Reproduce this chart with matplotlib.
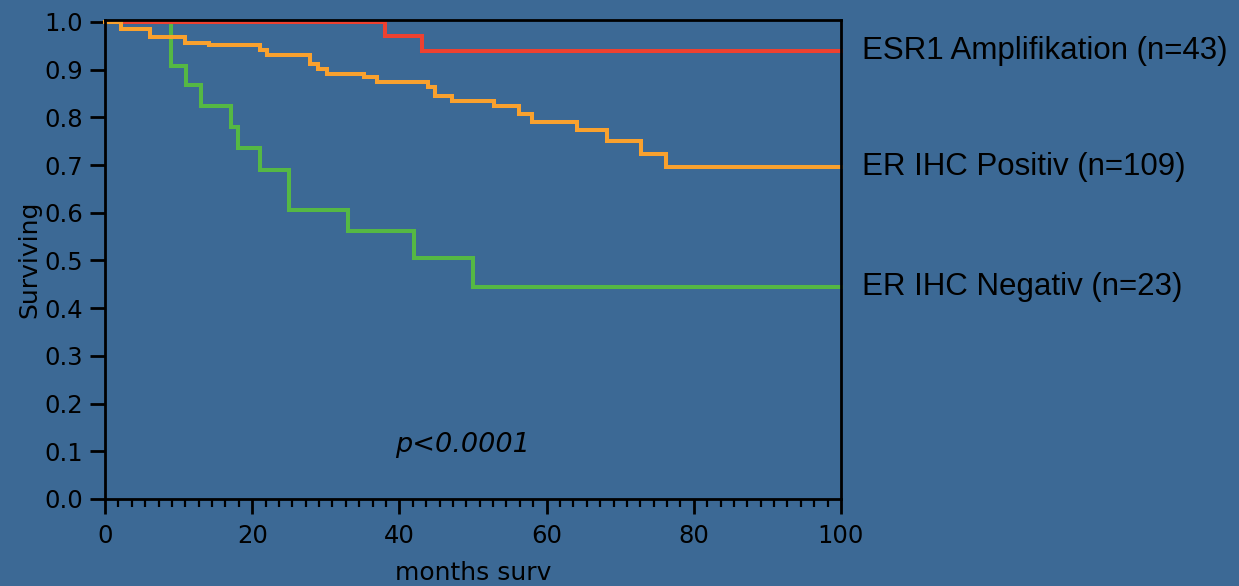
import matplotlib
matplotlib.use("Agg")
import matplotlib.pyplot as plt
import numpy as np
from matplotlib.ticker import MultipleLocator

# ESR1 Amplifikation (n=43)
esr1_t = [0, 38.0, 43.1, 100]
esr1_s = [1.0, 0.971, 0.940, 0.940]

# ER IHC Positiv (n=109)
pos_t = [0, 2.2, 6.1, 10.9, 14.1, 21.1, 22.0, 27.9, 29.0, 30.1, 35.2, 36.9,
         43.9, 44.8, 47.1, 52.9, 56.2, 58.0, 64.1, 68.2, 72.8, 76.2, 100]
pos_s = [1.0, 0.985, 0.969, 0.956, 0.951, 0.941, 0.930, 0.912, 0.901, 0.891,
         0.885, 0.874, 0.864, 0.845, 0.834, 0.824, 0.806, 0.790, 0.774, 0.751,
         0.724, 0.696, 0.696]

# ER IHC Negativ (n=23)
neg_t = [0, 9.0, 11.0, 13.0, 17.1, 18.1, 21.1, 25.0, 33.0, 42.0, 50.0, 100]
neg_s = [1.0, 0.907, 0.868, 0.824, 0.779, 0.736, 0.690, 0.606, 0.562, 0.506,
         0.445, 0.445]

labels = ["ESR1 Amplifikation (n=43)", "ER IHC Positiv (n=109)", "ER IHC Negativ (n=23)"]
colors = ["#EE4130", "#F9A12E", "#55B844"]

bg = "#3C6995"
fig = plt.figure(figsize=(12.39, 5.86), dpi=100, facecolor=bg)
ax = fig.add_axes([105/1239, 87/586, 736/1239, 479/586])
ax.set_facecolor(bg)

# draw order: negative, ESR1, positive on top
order = [((neg_t, neg_s), colors[2]), ((esr1_t, esr1_s), colors[0]), ((pos_t, pos_s), colors[1])]
for (t, s), c in order:
    ax.step(t, s, where="post", color=c, lw=2.9, solid_joinstyle="miter",
            clip_on=False)

ax.set_xlim(0, 100)
ax.set_ylim(0, 1.004)
ax.xaxis.set_major_locator(MultipleLocator(20))
ax.xaxis.set_minor_locator(MultipleLocator(20/11))
ax.set_yticks(np.round(np.arange(0, 1.01, 0.1), 1))
ax.set_yticklabels([f"{v:.1f}" for v in np.arange(0, 1.01, 0.1)])

for sp in ax.spines.values():
    sp.set_color("black")
    sp.set_linewidth(2.0)

ax.tick_params(axis="x", which="major", direction="out", length=11, width=2.0,
               labelsize=17.5, pad=7, colors="black")
ax.tick_params(axis="x", which="minor", direction="out", length=6, width=1.6)
ax.tick_params(axis="y", which="major", direction="out", length=11, width=2.0,
               labelsize=17.5, pad=5, colors="black")
ax.tick_params(axis="y", which="minor", length=0)

ax.set_xlabel("months surv", fontsize=18, labelpad=9)
ax.set_ylabel("Surviving", fontsize=18, labelpad=2)

ends = [esr1_s[-1], pos_s[-1], neg_s[-1]]
for lab, yv in zip(labels, ends):
    ax.text(102.8, yv, lab, transform=ax.transData, fontsize=22.5,
            family="Liberation Sans", va="center", ha="left", clip_on=False)

ax.text(0.486, 0.113, "p<0.0001", transform=ax.transAxes, fontsize=19.5,
        style="italic", ha="center", va="center")

fig.savefig("out.png", dpi=100, facecolor=bg)
